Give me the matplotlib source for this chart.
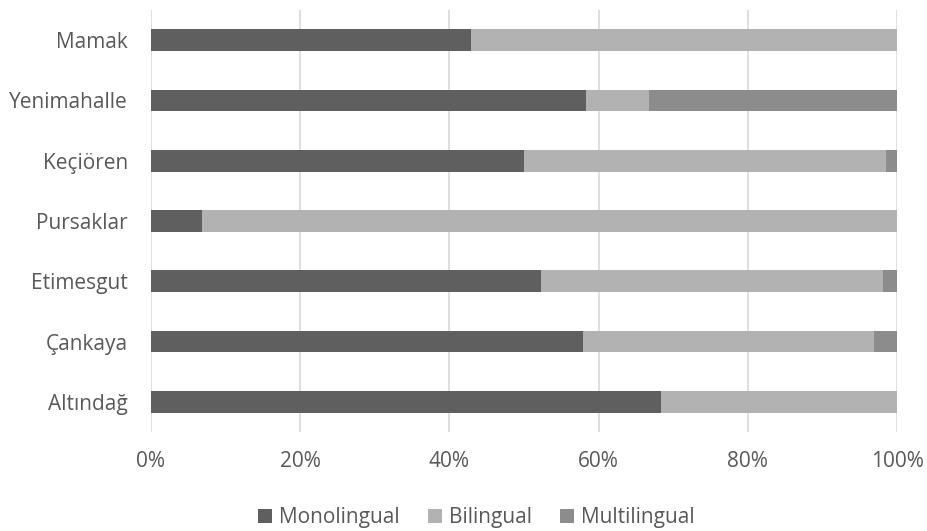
import matplotlib
matplotlib.use("Agg")
import matplotlib.pyplot as plt
from matplotlib.ticker import PercentFormatter
import numpy as np

plt.rcParams['font.family'] = ['Open Sans', 'DejaVu Sans']

districts = ["Altındağ", "Çankaya", "Etimesgut", "Pursaklar", "Keçiören", "Yenimahalle", "Mamak"]
monolingual = [68.4, 57.9, 52.3, 6.9, 50.0, 58.3, 42.9]
bilingual = [31.6, 39.0, 45.8, 93.1, 48.5, 8.4, 57.1]
multilingual = [0.0, 3.1, 1.9, 0.0, 1.5, 33.3, 0.0]

series_names = ["Monolingual", "Bilingual", "Multilingual"]
series_colors = ["#5f5f5f", "#b2b2b2", "#8c8c8c"]
text_color = "#595959"
font_size = 15

fig = plt.figure(figsize=(9.28, 5.31), dpi=100)
ax = fig.add_axes([0.1627, 0.1864, 0.8039, 0.7948])

y = np.arange(len(districts))
left = np.zeros(len(districts))
for name, vals, col in zip(series_names, [monolingual, bilingual, multilingual], series_colors):
    vals = np.array(vals)
    ax.barh(y, vals, left=left, height=0.36, color=col, label=name, zorder=3)
    left += vals

ax.set_xlim(0, 100)
ax.set_ylim(-0.5, len(districts) - 0.5)
ax.set_xticks(np.arange(0, 101, 20))
ax.xaxis.set_major_formatter(PercentFormatter(decimals=0))
ax.set_yticks(y)
ax.set_yticklabels(districts)

ax.grid(axis='x', color="#d9d9d9", linewidth=1.2, zorder=0)
ax.set_axisbelow(True)
for s in ax.spines.values():
    s.set_visible(False)
ax.tick_params(axis='both', length=0, labelsize=font_size, colors=text_color)
ax.tick_params(axis='x', pad=14)
ax.tick_params(axis='y', pad=16.5)

leg = fig.legend(loc='center', bbox_to_anchor=(476.5 / 928, 1 - 518 / 531), ncol=3, frameon=False,
                 fontsize=font_size, handlelength=0.65, handleheight=0.65, handletextpad=0.35,
                 columnspacing=1.35, borderpad=0)
for t in leg.get_texts():
    t.set_color(text_color)

fig.savefig("out.png", dpi=100, facecolor="white")
